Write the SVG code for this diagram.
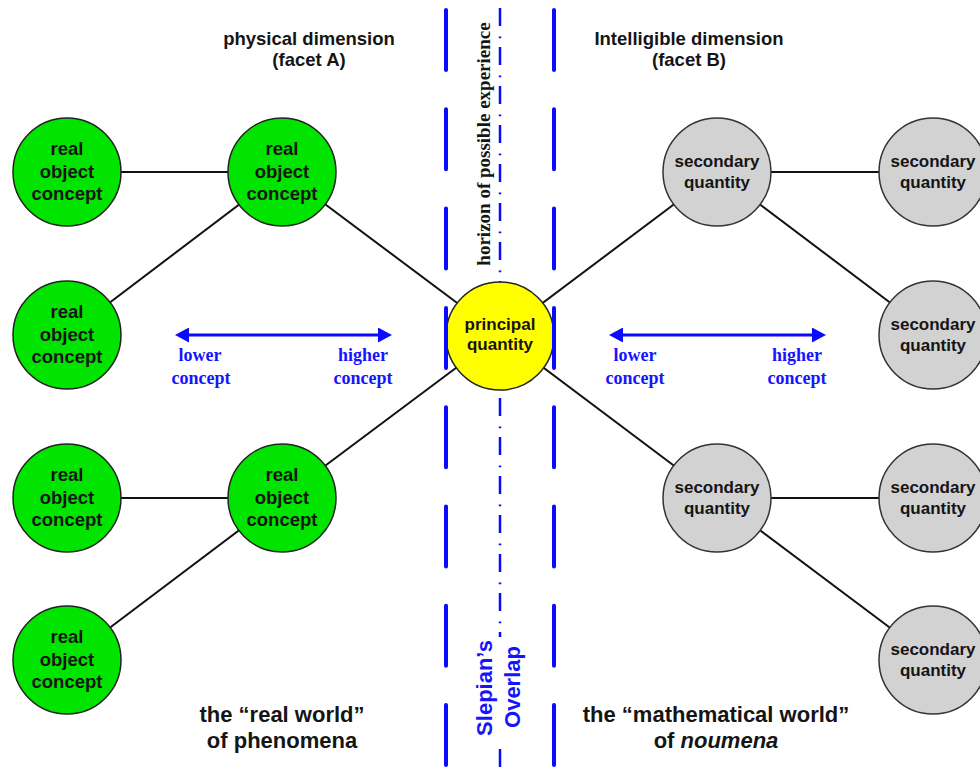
<svg xmlns="http://www.w3.org/2000/svg" width="980" height="770" viewBox="0 0 980 770">
<style>
.bg{fill:#ffffff}
.edge{stroke:#111111;stroke-width:2;fill:none}
.green{fill:#00e400;stroke:#222222;stroke-width:1.5}
.gray{fill:#d2d2d2;stroke:#333333;stroke-width:1.5}
.yellow{fill:#ffff00;stroke:#222222;stroke-width:1.5}
.t{font-family:"Liberation Sans",Arial,sans-serif;font-weight:bold;fill:#151515;text-anchor:middle}
.n18{font-size:18.5px}
.n17{font-size:17px}
.head{font-size:18.5px}
.big{font-size:22px}
.ser{font-family:"Liberation Serif","Times New Roman",serif;font-weight:bold;text-anchor:middle}
.blue{fill:#1414ff}
.dash{stroke:#0a0aff;stroke-width:4;stroke-linecap:round;stroke-dasharray:60 39.3;fill:none}
.dashdot{stroke:#0a0aff;stroke-width:2.5;stroke-dasharray:18 10.5 1.8 8.7;fill:none}
.arrow{stroke:#0a0aff;stroke-width:3;fill:none;marker-start:url(#ah);marker-end:url(#ah)}
</style>
<defs>
<marker id="ah" viewBox="0 0 14 15" markerWidth="14" markerHeight="15" refX="10" refY="7.5" markerUnits="userSpaceOnUse" orient="auto-start-reverse">
<path d="M0,0 L14,7.5 L0,15 z" fill="#0a0aff"/>
</marker>
</defs>
<rect class="bg" x="0" y="0" width="980" height="770"/>

<g id="center-line">
<line class="dashdot" x1="500" y1="8" x2="500" y2="770"/>
</g>

<g id="connectors">
<line class="edge" x1="67" y1="172" x2="282" y2="172"/>
<line class="edge" x1="67" y1="335" x2="282" y2="172"/>
<line class="edge" x1="282" y1="172" x2="500" y2="335"/>
<line class="edge" x1="500" y1="335" x2="282" y2="498"/>
<line class="edge" x1="67" y1="498" x2="282" y2="498"/>
<line class="edge" x1="67" y1="660" x2="282" y2="498"/>
<line class="edge" x1="500" y1="335" x2="717" y2="172"/>
<line class="edge" x1="717" y1="172" x2="933" y2="172"/>
<line class="edge" x1="717" y1="172" x2="933" y2="335"/>
<line class="edge" x1="500" y1="335" x2="717" y2="498"/>
<line class="edge" x1="717" y1="498" x2="933" y2="498"/>
<line class="edge" x1="717" y1="498" x2="933" y2="660"/>
</g>

<g id="g1"><circle class="green" cx="67" cy="172" r="54"/><text class="t n18" x="67" y="155">real</text><text class="t n18" x="67" y="178">object</text><text class="t n18" x="67" y="200">concept</text></g>
<g id="g2"><circle class="green" cx="67" cy="335" r="54"/><text class="t n18" x="67" y="318">real</text><text class="t n18" x="67" y="341">object</text><text class="t n18" x="67" y="363">concept</text></g>
<g id="g3"><circle class="green" cx="67" cy="498" r="54"/><text class="t n18" x="67" y="481">real</text><text class="t n18" x="67" y="504">object</text><text class="t n18" x="67" y="526">concept</text></g>
<g id="g4"><circle class="green" cx="67" cy="660" r="54"/><text class="t n18" x="67" y="643">real</text><text class="t n18" x="67" y="666">object</text><text class="t n18" x="67" y="688">concept</text></g>
<g id="g5"><circle class="green" cx="282" cy="172" r="54"/><text class="t n18" x="282" y="155">real</text><text class="t n18" x="282" y="178">object</text><text class="t n18" x="282" y="200">concept</text></g>
<g id="g6"><circle class="green" cx="282" cy="498" r="54"/><text class="t n18" x="282" y="481">real</text><text class="t n18" x="282" y="504">object</text><text class="t n18" x="282" y="526">concept</text></g>

<g id="principal"><circle class="yellow" cx="500" cy="336" r="54"/><text class="t n17" x="500" y="330">principal</text><text class="t n17" x="500" y="350">quantity</text></g>

<g id="s1"><circle class="gray" cx="717" cy="172" r="54"/><text class="t n17" x="717" y="167">secondary</text><text class="t n17" x="717" y="188">quantity</text></g>
<g id="s2"><circle class="gray" cx="717" cy="498" r="54"/><text class="t n17" x="717" y="493">secondary</text><text class="t n17" x="717" y="514">quantity</text></g>
<g id="s3"><circle class="gray" cx="933" cy="172" r="54"/><text class="t n17" x="933" y="167">secondary</text><text class="t n17" x="933" y="188">quantity</text></g>
<g id="s4"><circle class="gray" cx="933" cy="335" r="54"/><text class="t n17" x="933" y="330">secondary</text><text class="t n17" x="933" y="351">quantity</text></g>
<g id="s5"><circle class="gray" cx="933" cy="498" r="54"/><text class="t n17" x="933" y="493">secondary</text><text class="t n17" x="933" y="514">quantity</text></g>
<g id="s6"><circle class="gray" cx="933" cy="660" r="54"/><text class="t n17" x="933" y="655">secondary</text><text class="t n17" x="933" y="676">quantity</text></g>

<g id="boundaries">
<line class="dash" x1="446" y1="10" x2="446" y2="770"/>
<line class="dash" x1="554" y1="10" x2="554" y2="770"/>
</g>

<g id="horizon-label">
<text class="ser" font-size="19" fill="#151515" transform="translate(490,144) rotate(-90)">horizon of possible experience</text>
</g>

<g id="slepian">
<rect x="472" y="637" width="54" height="104" fill="#ffffff"/>
<text class="t big blue" transform="translate(492,688) rotate(-90)">Slepian’s</text>
<text class="t big blue" transform="translate(520,687) rotate(-90)">Overlap</text>
</g>

<g id="left-arrow">
<line class="arrow" x1="179" y1="335" x2="388" y2="335"/>
<text class="ser blue" font-size="18" x="200" y="361">lower</text>
<text class="ser blue" font-size="18" x="201" y="384">concept</text>
<text class="ser blue" font-size="18" x="363" y="361">higher</text>
<text class="ser blue" font-size="18" x="363" y="384">concept</text>
</g>
<g id="right-arrow">
<line class="arrow" x1="613" y1="335" x2="822" y2="335"/>
<text class="ser blue" font-size="18" x="635" y="361">lower</text>
<text class="ser blue" font-size="18" x="635" y="384">concept</text>
<text class="ser blue" font-size="18" x="797" y="361">higher</text>
<text class="ser blue" font-size="18" x="797" y="384">concept</text>
</g>

<g id="top-labels">
<text class="t head" x="309" y="45">physical dimension</text>
<text class="t head" x="309" y="66">(facet A)</text>
<text class="t head" x="689" y="45">Intelligible dimension</text>
<text class="t head" x="689" y="66">(facet B)</text>
</g>

<g id="bottom-labels">
<text class="t big" x="282" y="722">the “real world”</text>
<text class="t big" x="282" y="748">of phenomena</text>
<text class="t big" x="716" y="722">the “mathematical world”</text>
<text class="t big" x="716" y="748">of <tspan font-style="italic">noumena</tspan></text>
</g>
</svg>
